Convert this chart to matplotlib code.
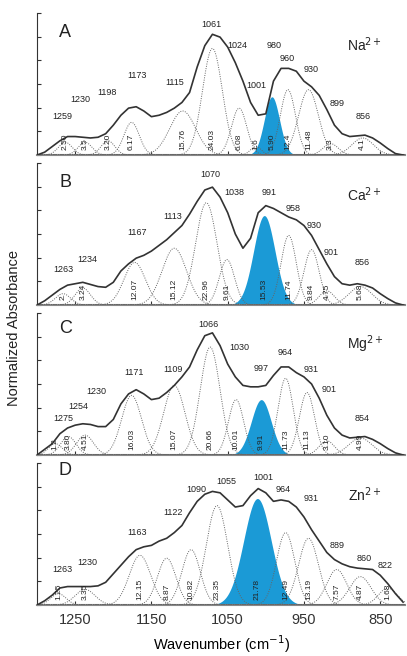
import matplotlib.pyplot as plt
import numpy as np

plt.rcParams['font.family'] = ['Liberation Sans', 'DejaVu Sans']

# sampled wavenumbers for the summed spectrum (read every 10 cm-1)
wn = np.arange(1300, 815, -10)

total_A = [0, 0.02, 0.06, 0.10, 0.13, 0.13, 0.125, 0.12, 0.125, 0.15, 0.21, 0.28, 0.33, 0.34, 0.31,
           0.27, 0.28, 0.30, 0.33, 0.37, 0.44, 0.62, 0.77, 0.85, 0.83, 0.76, 0.65, 0.52, 0.37, 0.28,
           0.29, 0.52, 0.61, 0.61, 0.59, 0.52, 0.48, 0.42, 0.32, 0.21, 0.15, 0.13, 0.135, 0.14, 0.12,
           0.085, 0.045, 0.01, 0]
total_B = [0, 0.03, 0.07, 0.11, 0.14, 0.15, 0.16, 0.145, 0.13, 0.125, 0.16, 0.24, 0.29, 0.33, 0.35,
           0.38, 0.42, 0.46, 0.51, 0.56, 0.64, 0.73, 0.81, 0.83, 0.76, 0.65, 0.50, 0.40, 0.47, 0.65,
           0.70, 0.68, 0.65, 0.62, 0.60, 0.56, 0.49, 0.39, 0.29, 0.20, 0.15, 0.14, 0.15, 0.14, 0.12,
           0.08, 0.045, 0.015, 0]
total_C = [0, 0.04, 0.08, 0.15, 0.19, 0.21, 0.22, 0.215, 0.20, 0.20, 0.25, 0.36, 0.43, 0.46, 0.43,
           0.39, 0.40, 0.44, 0.49, 0.55, 0.62, 0.74, 0.84, 0.86, 0.77, 0.64, 0.55, 0.49, 0.48, 0.48,
           0.49, 0.56, 0.62, 0.62, 0.58, 0.55, 0.50, 0.40, 0.28, 0.19, 0.14, 0.12, 0.125, 0.13, 0.11,
           0.08, 0.045, 0.015, 0]
total_D = [0, 0.03, 0.07, 0.12, 0.13, 0.13, 0.13, 0.13, 0.135, 0.16, 0.22, 0.28, 0.34, 0.39, 0.41,
           0.42, 0.45, 0.47, 0.51, 0.56, 0.65, 0.73, 0.78, 0.80, 0.79, 0.74, 0.69, 0.70, 0.77, 0.82,
           0.79, 0.73, 0.74, 0.73, 0.69, 0.62, 0.53, 0.45, 0.37, 0.32, 0.29, 0.27, 0.26, 0.255, 0.25,
           0.21, 0.15, 0.08, 0.02]

# fitted bands: centre (cm-1), height, width (sigma, cm-1), area label
cen_A = [1263, 1237, 1207, 1176, 1109, 1070, 1035, 1013, 992, 971, 944, 915, 873]
hgt_A = [0.09, 0.09, 0.10, 0.23, 0.31, 0.75, 0.33, 0.06, 0.41, 0.46, 0.46, 0.08, 0.12]
wid_A = [9, 9, 9, 10, 17, 13, 10, 7, 10, 10, 13, 10, 14]
area_A = ["2.50", "3.5", "3.20", "6.17", "15.76", "24.03", "6.08", "1.6", "5.90", "12.4", "11.48", "3.3", "4.1"]

cen_B = [1266, 1240, 1172, 1120, 1078, 1051, 1002, 970, 940, 920, 876]
hgt_B = [0.08, 0.12, 0.30, 0.40, 0.72, 0.32, 0.63, 0.49, 0.39, 0.10, 0.13]
wid_B = [10, 10, 14, 16, 14, 10, 14, 10, 10, 10, 15]
area_B = ["2.", "3.24", "12.07", "15.12", "22.96", "9.61", "15.53", "11.74", "9.84", "4.75", "5.68"]

cen_C = [1276, 1259, 1237, 1176, 1120, 1073, 1039, 1006, 974, 946, 920, 876]
hgt_C = [0.08, 0.13, 0.14, 0.42, 0.49, 0.76, 0.39, 0.39, 0.54, 0.44, 0.10, 0.12]
wid_C = [9, 10, 11, 13, 14, 13, 10, 13, 10, 10, 10, 15]
area_C = ["1.2", "3.80", "4.51", "16.03", "15.07", "20.66", "10.01", "9.91", "11.73", "11.13", "3.10", "4.99"]

cen_D = [1272, 1237, 1165, 1130, 1098, 1064, 1011, 974, 944, 907, 876, 840]
hgt_D = [0.08, 0.11, 0.35, 0.33, 0.39, 0.70, 0.75, 0.51, 0.47, 0.25, 0.20, 0.12]
wid_D = [10, 13, 14, 12, 12, 14, 18, 12, 13, 13, 14, 12]
area_D = ["1.25", "3.35", "12.15", "8.87", "10.82", "23.35", "21.78", "12.49", "13.19", "7.57", "4.87", "1.68"]

blue_A, blue_B, blue_C, blue_D = 8, 6, 7, 6

peaks_A = ["1259", "1230", "1198", "1173", "1115", "1061", "1024", "1001", "980", "960", "930", "899", "856"]
peaks_B = ["1263", "1234", "1167", "1113", "1070", "1038", "991", "958", "930", "901", "856"]
peaks_C = ["1275", "1254", "1230", "1171", "1109", "1066", "1030", "997", "964", "931", "901", "854"]
peaks_D = ["1263", "1230", "1163", "1122", "1090", "1055", "1001", "964", "931", "889", "860", "822"]

# label placement (x in cm-1, y in axis units)
pos_A = [(1267, 0.27), (1243, 0.39), (1208, 0.44), (1169, 0.56), (1120, 0.51), (1071, 0.92),
         (1037, 0.77), (1013, 0.49), (989, 0.77), (972, 0.68), (941, 0.60), (907, 0.36), (872, 0.27)]
pos_B = [(1266, 0.25), (1234, 0.32), (1169, 0.51), (1122, 0.62), (1073, 0.92), (1041, 0.79),
         (996, 0.79), (964, 0.68), (936, 0.56), (914, 0.37), (874, 0.30)]
pos_C = [(1266, 0.26), (1246, 0.34), (1222, 0.45), (1173, 0.58), (1122, 0.60), (1075, 0.92),
         (1035, 0.76), (1006, 0.61), (974, 0.72), (941, 0.60), (917, 0.46), (874, 0.26)]
pos_D = [(1267, 0.25), (1234, 0.30), (1169, 0.51), (1122, 0.65), (1091, 0.81), (1052, 0.87),
         (1003, 0.90), (977, 0.81), (941, 0.75), (906, 0.42), (871, 0.33), (843, 0.28)]

panels = [
    ("A", "Na$^{2+}$", total_A, cen_A, hgt_A, wid_A, area_A, blue_A, peaks_A, pos_A, 0.86),
    ("B", "Ca$^{2+}$", total_B, cen_B, hgt_B, wid_B, area_B, blue_B, peaks_B, pos_B, 0.86),
    ("C", "Mg$^{2+}$", total_C, cen_C, hgt_C, wid_C, area_C, blue_C, peaks_C, pos_C, 0.89),
    ("D", "Zn$^{2+}$", total_D, cen_D, hgt_D, wid_D, area_D, blue_D, peaks_D, pos_D, 0.95),
]

fig = plt.figure(figsize=(4.07, 6.56), dpi=100)
bottoms = [0.7637, 0.535, 0.3064, 0.0777]
x = np.linspace(1300, 815, 800)
line_col = "#333333"

for (letter, ion, total, cen, hgt, wid, area, blue, peaks, pos, ly), b in zip(panels, bottoms):
    ax = fig.add_axes([0.091, b, 0.905, 0.2165])
    for k, (c, h, s) in enumerate(zip(cen, hgt, wid)):
        y = h * np.exp(-0.5 * ((x - c) / s) ** 2)
        if k == blue:
            ax.fill_between(x, 0, y, color="#1b9ad6", lw=0, zorder=2)
        else:
            ax.plot(x, y, ls=(0, (1, 1.4)), lw=0.7, color="#666666", zorder=3)
        ax.text(c, 0.035, area[k], rotation=90, ha="center", va="bottom", fontsize=6,
                color="#222222", zorder=5)
    ax.plot(wn, total, color=line_col, lw=1.2, zorder=4, solid_joinstyle="round")
    for p, (px, py) in zip(peaks, pos):
        ax.text(px, py, p, ha="center", va="center", fontsize=6.5, color="#222222", zorder=5)
    ax.text(1263, ly, letter, ha="center", va="center", fontsize=13, color="#222222")
    ax.text(870, 0.78, ion, ha="center", va="center", fontsize=10, color="#222222")

    ax.set_xlim(1300, 817)
    ax.set_ylim(0, 1)
    ax.set_yticks(np.linspace(0, 1, 7))
    ax.set_yticklabels([])
    ax.set_xticks([1250, 1150, 1050, 950, 850])
    ax.tick_params(direction="in", length=3, width=0.8, colors=line_col)
    for side in ["top", "right"]:
        ax.spines[side].set_visible(False)
    ax.spines["left"].set_color(line_col)
    ax.spines["bottom"].set_color("#888888")
    ax.spines["bottom"].set_linewidth(1.5)
    if letter != "D":
        ax.set_xticklabels([])
    else:
        ax.tick_params(axis="x", labelsize=10.5, pad=6)
        ax.set_xlabel("Wavenumber (cm$^{-1}$)", fontsize=10.5, labelpad=4)

fig.text(0.035, 0.5, "Normalized Absorbance", rotation=90, ha="center", va="center", fontsize=10.5,
         color="#222222")

plt.savefig("out.png", dpi=100)
